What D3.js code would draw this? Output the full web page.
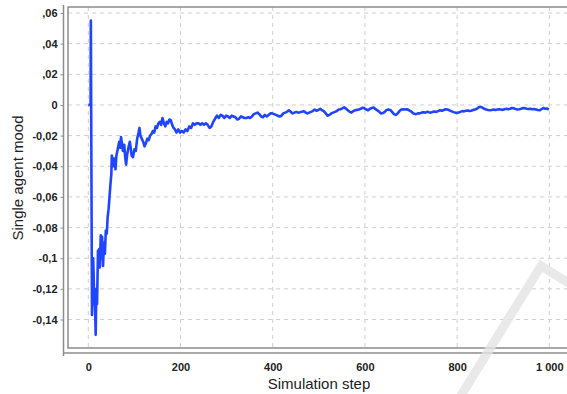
<!DOCTYPE html>
<html>
<head>
<meta charset="utf-8">
<script src="https://cdn.jsdelivr.net/npm/d3@7.9.0/dist/d3.min.js"></script>
<style>
  body { margin: 0; background: #fff; }
  svg { display: block; font-family: "Liberation Sans", Arial, sans-serif; }
</style>
</head>
<body>
<svg width="567" height="394"></svg>
<script>
// data
const steps = [0, 5, 5.5, 8, 9, 10.5, 11.5, 13, 14, 16, 17.5, 19, 21, 22, 23.5, 25, 27, 28.5, 30, 32, 34, 36, 38, 40, 42, 44, 46, 48, 50, 51, 53, 55, 57, 59, 61, 63, 65, 67, 69, 71, 73, 75, 78, 80, 82, 84, 87, 90, 92, 94, 97, 100, 103, 106, 109, 111, 113, 116, 119, 122, 125, 128, 131, 134, 137, 140, 143, 146, 149, 152, 155, 158, 161, 164, 167, 170, 173, 176, 179, 182, 185, 188, 191, 195, 199, 203, 207, 211, 215, 219, 223, 227, 231, 235, 239, 243, 247, 251, 255, 259, 263, 267, 271, 275, 279, 283, 287, 291, 295, 299, 303, 307, 311, 315, 319, 323, 327, 331, 335, 339, 343, 347, 351, 355, 359, 363, 367, 371, 375, 379, 383, 387, 391, 395, 399, 403, 407, 411, 415, 419, 423, 427, 431, 435, 439, 443, 447, 451, 455, 459, 463, 467, 471, 475, 479, 483, 487, 491, 495, 499, 503, 507, 511, 515, 519, 523, 527, 531, 535, 539, 543, 547, 551, 555, 559, 563, 567, 571, 575, 579, 583, 587, 591, 595, 599, 603, 607, 611, 615, 619, 623, 627, 631, 635, 639, 643, 647, 651, 655, 659, 663, 667, 671, 675, 679, 683, 687, 691, 695, 699, 703, 707, 711, 715, 719, 723, 727, 731, 735, 739, 743, 747, 751, 755, 759, 763, 767, 771, 775, 779, 783, 787, 791, 795, 799, 803, 807, 811, 815, 819, 823, 827, 831, 835, 839, 843, 847, 851, 855, 859, 863, 867, 871, 875, 879, 883, 887, 891, 895, 899, 903, 907, 911, 915, 919, 923, 927, 931, 935, 939, 943, 947, 951, 955, 959, 963, 967, 971, 975, 979, 983, 987, 991, 995, 999];
const mood = [0, 0, 0.055, -0.137, -0.125, -0.1, -0.11, -0.13, -0.122, -0.15, -0.12, -0.13, -0.095, -0.1, -0.094, -0.106, -0.085, -0.1, -0.086, -0.105, -0.09, -0.097, -0.082, -0.084, -0.073, -0.068, -0.06, -0.052, -0.045, -0.033, -0.036, -0.04, -0.035, -0.042, -0.033, -0.03, -0.027, -0.024, -0.028, -0.021, -0.025, -0.03, -0.026, -0.034, -0.039, -0.033, -0.028, -0.024, -0.028, -0.033, -0.034, -0.029, -0.03, -0.022, -0.018, -0.015, -0.02, -0.022, -0.024, -0.027, -0.025, -0.022, -0.023, -0.02, -0.019, -0.017, -0.018, -0.014, -0.015, -0.012, -0.011, -0.013, -0.0085, -0.012, -0.014, -0.011, -0.012, -0.0095, -0.01, -0.013, -0.015, -0.016, -0.018, -0.016, -0.018, -0.017, -0.018, -0.016, -0.017, -0.014, -0.015, -0.012, -0.013, -0.012, -0.012, -0.013, -0.012, -0.013, -0.012, -0.013, -0.015, -0.014, -0.011, -0.009, -0.007, -0.0085, -0.0065, -0.007, -0.0085, -0.007, -0.0075, -0.0085, -0.007, -0.0075, -0.008, -0.0095, -0.009, -0.0075, -0.008, -0.0085, -0.0085, -0.008, -0.0085, -0.0075, -0.006, -0.0055, -0.005, -0.006, -0.0075, -0.008, -0.0065, -0.0075, -0.0065, -0.0055, -0.0055, -0.006, -0.0065, -0.007, -0.0075, -0.007, -0.0055, -0.005, -0.0045, -0.0035, -0.0045, -0.0055, -0.005, -0.0045, -0.005, -0.0048, -0.0045, -0.004, -0.0048, -0.0055, -0.005, -0.0045, -0.004, -0.003, -0.0038, -0.0033, -0.0025, -0.0035, -0.004, -0.0055, -0.007, -0.0065, -0.0055, -0.005, -0.0045, -0.004, -0.003, -0.0028, -0.0022, -0.0015, -0.0025, -0.0035, -0.0045, -0.005, -0.004, -0.0035, -0.0032, -0.003, -0.0025, -0.0018, -0.0022, -0.003, -0.0035, -0.0025, -0.002, -0.0017, -0.0028, -0.0035, -0.0045, -0.0055, -0.0053, -0.0045, -0.0033, -0.003, -0.0033, -0.0045, -0.006, -0.0065, -0.0055, -0.004, -0.003, -0.0028, -0.003, -0.0028, -0.0033, -0.004, -0.005, -0.0058, -0.006, -0.0055, -0.0055, -0.005, -0.0048, -0.005, -0.0045, -0.0048, -0.005, -0.0045, -0.0043, -0.0045, -0.004, -0.0035, -0.0038, -0.0033, -0.0028, -0.003, -0.0035, -0.004, -0.0045, -0.005, -0.0053, -0.005, -0.0045, -0.004, -0.0042, -0.0038, -0.0036, -0.004, -0.0038, -0.0032, -0.003, -0.0025, -0.0015, -0.0012, -0.0018, -0.0025, -0.003, -0.0033, -0.0035, -0.0033, -0.003, -0.0033, -0.003, -0.0028, -0.003, -0.0032, -0.0028, -0.0025, -0.0028, -0.0025, -0.002, -0.0022, -0.0027, -0.003, -0.0028, -0.0025, -0.002, -0.0022, -0.0025, -0.0027, -0.0025, -0.0028, -0.0027, -0.003, -0.0033, -0.0035, -0.0028, -0.002, -0.0025, -0.0023, -0.003];

const xTicks = [0, 200, 400, 600, 800, 1000];
const xTickLabels = ['0', '200', '400', '600', '800', '1 000'];
const yTicks = [0.06, 0.04, 0.02, 0, -0.02, -0.04, -0.06, -0.08, -0.1, -0.12, -0.14];
const yTickLabels = [',06', ',04', ',02', '0', '-0,02', '-0,04', '-0,06', '-0,08', '-0,1', '-0,12', '-0,14'];

const svg = d3.select('svg');

// plot frame
const plotLeft = 68, plotTop = 7, plotBottom = 348, plotRight = 570;
const x = d3.scaleLinear().domain([0, 1000]).range([88.3, 549.3]);
const y = d3.scaleLinear().domain([0.06, -0.14]).range([13, 319.5]);

// grid
const grid = svg.append('g')
  .attr('stroke', '#cfcfcf')
  .attr('stroke-dasharray', '4,4')
  .attr('stroke-width', 1);
grid.selectAll('.gx').data(xTicks).join('line')
  .attr('x1', d => x(d)).attr('x2', d => x(d))
  .attr('y1', plotTop).attr('y2', plotBottom);
grid.selectAll('.gy').data(yTicks).join('line')
  .attr('x1', plotLeft).attr('x2', plotRight)
  .attr('y1', d => y(d)).attr('y2', d => y(d));

// frame (top + left + bottom)
svg.append('path')
  .attr('d', `M${plotRight},${plotTop}H${plotLeft}V${plotBottom}H${plotRight}`)
  .attr('fill', 'none').attr('stroke', '#8c8c8c').attr('stroke-width', 1.5);

// y axis (offset from plot)
const yAxis = svg.append('g')
  .attr('transform', 'translate(63.5,0)')
  .call(d3.axisLeft(y).tickValues(yTicks).tickFormat((d, i) => yTickLabels[i]).tickSize(3).tickPadding(3));
yAxis.select('.domain').attr('d', `M-0,${plotTop - 2}V${plotBottom + 8}`).attr('stroke', '#8c8c8c').attr('stroke-width', 1.5);
yAxis.selectAll('.tick line').attr('stroke', '#8c8c8c');
yAxis.selectAll('text')
  .attr('font-size', 11).attr('font-weight', 'bold').attr('fill', '#222')
  .attr('font-family', '"Liberation Sans", Arial, sans-serif');

// x axis (offset from plot)
const xAxis = svg.append('g')
  .attr('transform', 'translate(0,353)')
  .call(d3.axisBottom(x).tickValues(xTicks).tickFormat((d, i) => xTickLabels[i]).tickSize(0).tickPadding(10));
xAxis.select('.domain').attr('d', `M${plotLeft - 4},0H${plotRight}`).attr('stroke', '#8c8c8c').attr('stroke-width', 1.5);
xAxis.selectAll('text')
  .attr('font-size', 11).attr('font-weight', 'bold').attr('fill', '#222')
  .attr('font-family', '"Liberation Sans", Arial, sans-serif');

// axis titles
svg.append('text')
  .attr('x', 319).attr('y', 389)
  .attr('text-anchor', 'middle').attr('font-size', 15).attr('fill', '#222')
  .text('Simulation step');
svg.append('text')
  .attr('transform', 'translate(23,178) rotate(-90)')
  .attr('text-anchor', 'middle').attr('font-size', 15).attr('fill', '#222')
  .text('Single agent mood');

// series
const pts = steps.map((s, i) => [s, mood[i]]);
const line = d3.line().x(d => x(d[0])).y(d => y(d[1]));
svg.append('path')
  .datum(pts)
  .attr('d', line)
  .attr('fill', 'none')
  .attr('stroke', '#1f45ff')
  .attr('stroke-width', 2.6)
  .attr('stroke-linejoin', 'round');

// faint watermark stroke in the corner
svg.append('path')
  .attr('d', 'M452,410L541,266L580,290')
  .attr('fill', 'none')
  .attr('stroke', '#e4e4e4')
  .attr('stroke-opacity', 0.8)
  .attr('stroke-width', 9);
</script>
</body>
</html>
